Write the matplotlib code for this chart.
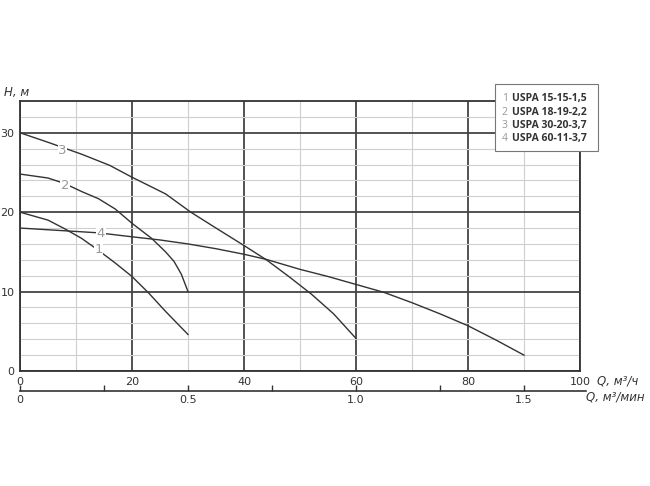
import matplotlib.pyplot as plt
import numpy as np

# pump curves, Q in m3/h, H in m
q1 = [0, 5, 8, 11, 14, 17, 20, 23, 26, 30]
h1 = [20, 19.0, 17.9, 16.7, 15.2, 13.6, 11.9, 9.8, 7.5, 4.6]

q2 = [0, 5, 8, 11, 14, 17, 20, 23.5, 26, 27.5, 28.8, 30]
h2 = [24.8, 24.3, 23.6, 22.6, 21.7, 20.4, 18.6, 16.7, 15.0, 13.8, 12.2, 10]

q3 = [0, 5, 11, 16, 20, 26, 30.5, 35, 40, 44, 48, 52, 56, 60]
h3 = [30, 28.8, 27.3, 25.9, 24.4, 22.3, 20, 18.0, 15.8, 14.0, 11.9, 9.7, 7.2, 4.1]

q4 = [0, 7, 14, 20, 25, 30, 35, 40, 44, 50, 55, 60, 65, 70, 75, 80, 85, 90]
h4 = [18, 17.7, 17.4, 16.9, 16.5, 16.0, 15.4, 14.7, 14.05, 12.8, 11.9, 10.9,
      9.9, 8.6, 7.2, 5.7, 3.9, 2]

names = ["USPA 15-15-1,5", "USPA 18-19-2,2", "USPA 30-20-3,7", "USPA 60-11-3,7"]
nums = ["1", "2", "3", "4"]
label_pos = [(14, 15.3), (8, 23.3), (7.6, 27.8), (14.4, 17.3)]

line_c = "#333333"
gray_txt = "#999999"

fig = plt.figure(figsize=(6.5, 4.86), dpi=100)
ax = fig.add_axes([0.0308, 0.2366, 0.8615, 0.5556])

ax.set_xlim(0, 100)
ax.set_ylim(0, 34)
ax.set_xticks([0, 20, 40, 60, 80, 100])
ax.set_xticks(np.arange(10, 100, 10), minor=True)
ax.set_yticks([0, 10, 20, 30])
ax.set_yticks(np.arange(2, 34, 2), minor=True)
ax.grid(which="minor", color="#cfcfcf", lw=0.8)
ax.grid(which="major", color="#444444", lw=1.3)
ax.set_axisbelow(True)
ax.tick_params(which="both", length=0, labelsize=8, colors="#333333", pad=4)
for s in ax.spines.values():
    s.set_color("#333333")
    s.set_linewidth(1.3)

for q, h in [(q1, h1), (q2, h2), (q3, h3), (q4, h4)]:
    ax.plot(q, h, color=line_c, lw=1.0, solid_joinstyle="round")

for n, (x, y) in zip(nums, label_pos):
    ax.text(x, y, n, color=gray_txt, fontsize=9.5, ha="center", va="center",
            bbox=dict(facecolor="white", edgecolor="none", pad=0.5))

ax.text(-2.9, 35.1, "H, м", fontsize=8.5, style="italic", color="#333333",
        ha="left", va="center", clip_on=False)
ax.text(103, -1.3, "Q, м³/ч", fontsize=8.5, style="italic", color="#333333",
        ha="left", va="center", clip_on=False)

sec = ax.secondary_xaxis(-0.074, functions=(lambda q: q / 60, lambda m: m * 60))
sec.set_xticks([0, 0.5, 1.0, 1.5])
sec.set_xticklabels(["0", "0.5", "1.0", "1.5"])
sec.set_xticks([0.25, 0.75, 1.25], minor=True)
sec.tick_params(which="both", direction="in", length=4, width=1, labelsize=8,
                colors="#333333", pad=3)
sec.spines["bottom"].set_color("#333333")
sec.spines["bottom"].set_linewidth(1.2)
sec.spines["bottom"].set_bounds(0, 1.685)
ax.text(101, -3.3, "Q, м³/мин", fontsize=8.5, style="italic", color="#333333",
        ha="left", va="center", clip_on=False)

# legend box
fig.patches.append(plt.Rectangle((0.762, 0.689), 0.158, 0.138,
                                 transform=fig.transFigure, facecolor="white",
                                 edgecolor="#777777", lw=0.8, zorder=5))
for i, (n, nm) in enumerate(zip(nums, names)):
    yy = 0.797 - i * 0.0275
    fig.text(0.772, yy, n, color=gray_txt, fontsize=7.5, va="center",
             family="Open Sans", zorder=6)
    fig.text(0.787, yy, nm, color="#333333", fontsize=7.5, va="center",
             family="Open Sans", weight="bold", zorder=6)

fig.savefig("out.png", dpi=100)
